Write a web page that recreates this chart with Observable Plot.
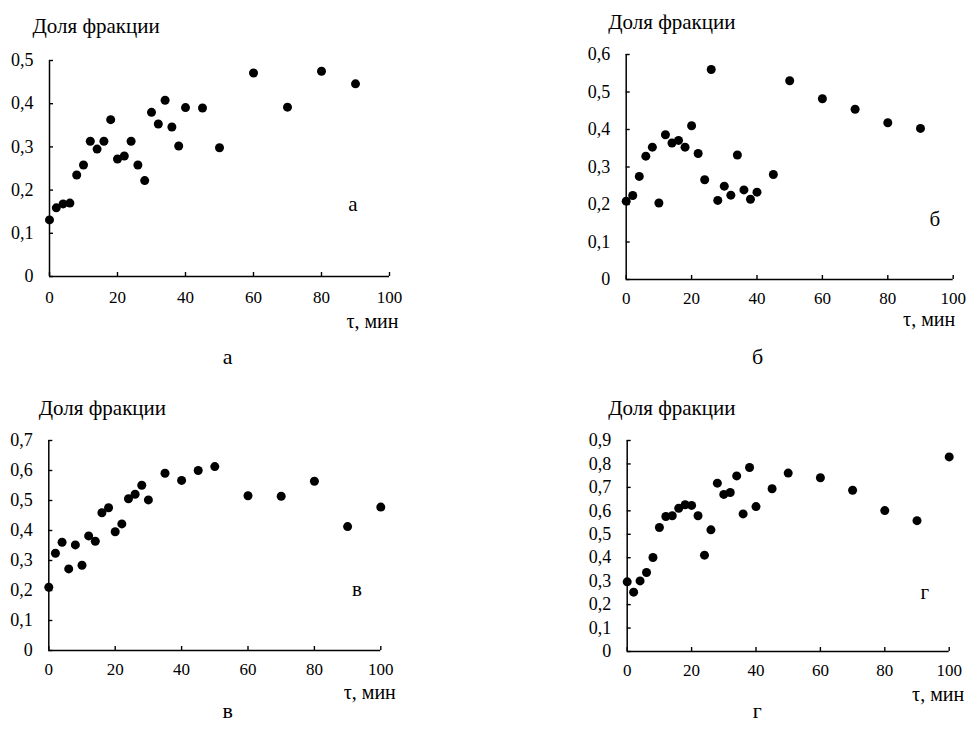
<!DOCTYPE html>
<html><head><meta charset="utf-8">
<script src="https://cdn.jsdelivr.net/npm/d3@7"></script>
<script src="https://cdn.jsdelivr.net/npm/@observablehq/plot@0.6"></script>
<style>
body{margin:0;background:#fff}
#wrap{position:relative;width:966px;height:742px;background:#fff}
#wrap svg{position:absolute;overflow:visible}
#wrap svg, #wrap svg text{font-family:"Liberation Serif","Times New Roman",serif !important}
</style></head><body><div id="wrap"></div>
<script>
const yLabel = "Доля фракции";
const xLabel = "τ, мин";
const xTicks = [0, 20, 40, 60, 80, 100];
const panelLetters = ["а", "б", "в", "г"];
const yMaxes = [0.5, 0.6, 0.7, 0.9];

const timeA = [0,2,4,6,8,10,12,14,16,18,20,22,24,26,28,30,32,34,36,38,40,45,50,60,70,80,90];
const shareA = [0.131,0.159,0.168,0.170,0.235,0.258,0.313,0.295,0.313,0.363,0.272,0.279,0.313,0.258,0.222,0.380,0.353,0.408,0.346,0.302,0.391,0.390,0.298,0.471,0.392,0.475,0.446];

const timeB = [0,2,4,6,8,10,12,14,16,18,20,22,24,26,28,30,32,34,36,38,40,45,50,60,70,80,90];
const shareB = [0.209,0.224,0.275,0.329,0.353,0.204,0.386,0.364,0.371,0.353,0.410,0.336,0.266,0.560,0.211,0.249,0.225,0.332,0.239,0.214,0.233,0.280,0.530,0.482,0.454,0.418,0.403];

const timeV = [0,2,4,6,8,10,12,14,16,18,20,22,24,26,28,30,35,40,45,50,60,70,80,90,100];
const shareV = [0.211,0.324,0.361,0.272,0.352,0.284,0.382,0.364,0.459,0.476,0.396,0.422,0.506,0.521,0.551,0.502,0.591,0.567,0.600,0.613,0.516,0.514,0.564,0.413,0.478];

const timeG = [0,2,4,6,8,10,12,14,16,18,20,22,24,26,28,30,32,34,36,38,40,45,50,60,70,80,90,100];
const shareG = [0.297,0.253,0.301,0.337,0.401,0.529,0.576,0.579,0.611,0.626,0.623,0.579,0.411,0.519,0.718,0.670,0.678,0.749,0.587,0.785,0.618,0.694,0.761,0.741,0.688,0.601,0.558,0.830];

const series = [[timeA, shareA], [timeB, shareB], [timeV, shareV], [timeG, shareG]];

// layout (pixels) per panel
const layouts = [
  {left: 0,   top: 0,   mL: 49,    mR: 94,   mT: 60, mB: 95, xPad: 18, title: [-17, -28], xl: [9, 51],  cap: [8, 87],   inner: [-32, -66]},
  {left: 483, top: 0,   mL: 142.7, mR: 13.3, mT: 54, mB: 92, xPad: 16, title: [-18, -26], xl: [2, 46],  cap: [-32, 84], inner: [-13, -54]},
  {left: 0,   top: 371, mL: 48.3,  mR: 102.7,mT: 69, mB: 92, xPad: 16, title: [-10, -26], xl: [15, 48], cap: [13, 67],  inner: [-19, -55]},
  {left: 483, top: 371, mL: 143.7, mR: 17.3, mT: 69, mB: 91, xPad: 16, title: [-19, -26], xl: [15, 49], cap: [-31, 66], inner: [-20, -53]}
];

const font = "Liberation Serif";
const fmt = d => d === 0 ? "0" : d.toFixed(1).replace(".", ",");
const wrap = document.getElementById("wrap");

layouts.forEach((L, i) => {
  const [t, v] = series[i];
  const data = t.map((x, j) => ({x, y: v[j]}));
  const yTicks = d3.range(0, Math.round(yMaxes[i] * 10) + 1).map(k => k / 10);
  const chart = Plot.plot({
    width: 483, height: 371,
    marginLeft: L.mL, marginRight: L.mR, marginTop: L.mT, marginBottom: L.mB,
    x: {domain: [0, 100]},
    y: {domain: [0, yMaxes[i]]},
    style: {fontFamily: font, fontSize: "17px", color: "black", background: "transparent"},
    marks: [
      Plot.axisX({ticks: xTicks, tickSize: -4, tickPadding: L.xPad, tickFormat: d => String(d), label: null, strokeWidth: 1.4, fontSize: 17, fontFamily: font}),
      Plot.axisY({ticks: yTicks, tickSize: -4, tickPadding: 20, tickFormat: fmt, label: null, strokeWidth: 1.4, fontSize: 18, fontFamily: font}),
      Plot.ruleX([0], {strokeWidth: 1.5}),
      Plot.ruleY([0], {strokeWidth: 1.5}),
      Plot.dot(data, {x: "x", y: "y", r: 4.5, fill: "black", stroke: "none"}),
      Plot.text([panelLetters[i]], {frameAnchor: "bottom-right", dx: L.inner[0], dy: L.inner[1], fontSize: 21, fontFamily: font}),
      Plot.text([yLabel], {frameAnchor: "top-left", textAnchor: "start", lineAnchor: "bottom", dx: L.title[0], dy: L.title[1], fontSize: 21, fontFamily: font}),
      Plot.text([xLabel], {frameAnchor: "bottom-right", textAnchor: "end", lineAnchor: "bottom", dx: L.xl[0], dy: L.xl[1], fontSize: 20, fontFamily: font}),
      Plot.text([panelLetters[i]], {frameAnchor: "bottom", lineAnchor: "bottom", dx: L.cap[0], dy: L.cap[1], fontSize: 22, fontFamily: font})
    ]
  });
  chart.style.left = L.left + "px";
  chart.style.top = L.top + "px";
  wrap.appendChild(chart);
});
</script></body></html>
